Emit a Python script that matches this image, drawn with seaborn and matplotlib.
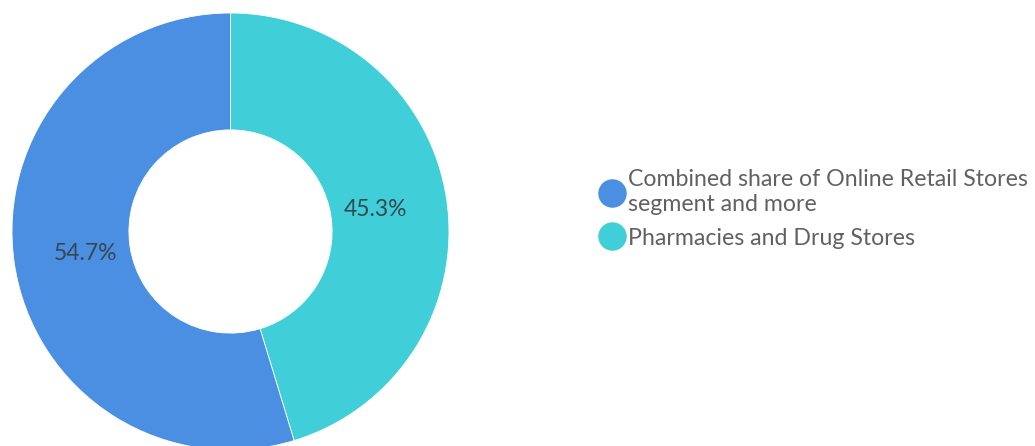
import matplotlib
matplotlib.use("Agg")
import matplotlib.pyplot as plt
from matplotlib.lines import Line2D
import seaborn as sns

# Share of sales by distribution channel
segments = ["Combined share of Online Retail Stores\nsegment and more",
            "Pharmacies and Drug Stores"]
shares = [54.7, 45.3]
colors = ["#4A8FE1", "#40CFD8"]

sns.set_theme(style="white")
plt.rcParams["font.family"] = ["Lato", "DejaVu Sans"]

W, H, DPI = 1035, 446, 100
fig = plt.figure(figsize=(W / DPI, H / DPI), dpi=DPI)
fig.patch.set_facecolor("white")

# donut placed in pixel units
cx, cy, r = 230.5, 446 - 231.5, 218.5
ax = fig.add_axes([(cx - r) / W, (cy - r) / H, 2 * r / W, 2 * r / H])

# draw Pharmacies first, clockwise from 12 o'clock
order = [1, 0]
wedges, texts, autotexts = ax.pie(
    [shares[i] for i in order],
    colors=[colors[i] for i in order],
    startangle=90, counterclock=False, radius=1.0,
    wedgeprops=dict(width=0.535, edgecolor="white", linewidth=0.6),
    autopct=lambda p: f"{p:.1f}%", pctdistance=0.67,
    textprops=dict(color="#37474F", fontsize=16.5),
)
ax.set_xlim(-1, 1)
ax.set_ylim(-1, 1)
ax.set_aspect("auto")
ax.axis("off")

handles = [Line2D([0], [0], marker="o", linestyle="none", markersize=19.5,
                  markerfacecolor=c, markeredgecolor=c) for c in colors]
leg = fig.legend(handles, segments, loc="center left",
                 bbox_to_anchor=(577 / W, 1 - 209 / H), frameon=False,
                 fontsize=16.7, labelcolor="#616161", handletextpad=0.05,
                 handlelength=1.25, labelspacing=0.55)

fig.savefig("out.png", dpi=DPI, facecolor="white")
